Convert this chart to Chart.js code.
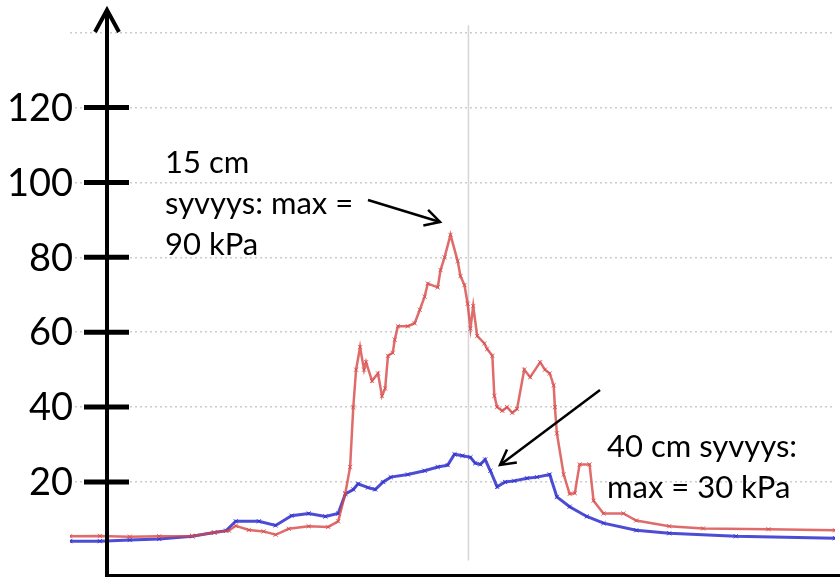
<!DOCTYPE html>
<html>
<head>
<meta charset="utf-8">
<script src="https://cdn.jsdelivr.net/npm/chart.js@4.4.0/dist/chart.umd.min.js"></script>
<style>
  html, body { margin: 0; padding: 0; background: #fff; }
  #wrap { width: 840px; height: 577px; position: relative; }
</style>
</head>
<body>
<div id="wrap"><canvas id="pressureChart"></canvas></div>
<script>
// time axis (arbitrary units, vertical gridline at 100)
const redTime = [0, 7.5, 15, 22.4, 30.7, 36.2, 39.9, 41.6, 44.9, 48.6, 51.6, 54.9, 59.9, 64.8, 67.3,
    69.1, 70.3, 71.1, 71.8, 72.8, 73.8, 74.3, 75.8, 77.3, 78.3, 79.1, 79.8, 81.0, 81.5, 82.3,
    84.8, 86.5, 87.8, 89.0, 89.8, 92.3, 93.0, 94.0, 95.5, 97.3, 98.0, 99.0, 99.8, 100.5, 101.2,
    102.2, 104.0, 104.7, 106.0, 106.5, 107.2, 108.5, 109.7, 111.0, 112.2, 114.0, 115.5, 118.0,
    119.2, 120.4, 121.4, 121.7, 122.2, 123.9, 125.4, 126.7, 127.9, 130.4, 131.4, 133.9, 138.9,
    142.1, 150.4, 158.9, 175.3, 192];
const redValues = [5.5, 5.6, 5.4, 5.5, 5.6, 6.5, 7.0, 8.3, 7.2, 6.8, 5.9, 7.5, 8.2, 8.0, 9.5,
    17, 24, 40, 50, 56, 50, 52, 47, 49, 43, 45, 53.7, 54.5, 58, 61.6,
    61.6, 62.4, 66, 69.5, 73, 72, 76.6, 80, 86, 79, 75, 72.6, 67.6, 61, 67,
    59, 57, 55.5, 53.7, 43, 40, 39, 40, 38.5, 39.5, 50, 48, 52,
    50, 49, 45.8, 40, 33, 22, 16.8, 17, 24.7, 24.7, 15, 11.6, 11.6,
    9.7, 8.2, 7.6, 7.4, 7.1];

const blueTime = [0, 7.5, 15, 22.4, 30.7, 36.2, 39.2, 41.6, 47.4, 51.6, 55.6, 59.9, 64.1, 67.3,
    69.1, 71.1, 72.3, 74.8, 76.6, 78.6, 80.5, 84.8, 89.0, 92.3, 94.8, 96.5, 98.5, 100.5, 101.7,
    103.0, 104.2, 105.5, 107.2, 109.2, 111.5, 114.7, 117.2, 120.4, 122.2, 125.4, 129.7, 133.9,
    142.1, 150.4, 167.1, 192];
const blueValues = [4.2, 4.2, 4.5, 4.8, 5.5, 6.5, 7, 9.5, 9.5, 8.4, 11, 11.6, 10.8, 11.6,
    16.8, 18, 19.5, 18.5, 18, 20, 21.3, 22, 23, 24, 24.5, 27.4, 27, 26.6, 25,
    24.7, 26, 23, 18.7, 20, 20.3, 21, 21.3, 22, 16, 13.4, 10.8, 9,
    7.1, 6.3, 5.5, 5];

const yTickLabels = [20, 40, 60, 80, 100, 120];
const gridLineTime = 100;

const annotations = [
    { lines: ['15 cm', 'syvyys: max =', '90 kPa'], x: 165, y: 163 },
    { lines: ['40 cm syvyys:', 'max = 30 kPa'], x: 607, y: 447 }
];
const arrows = [
    { from: [368, 200], to: [440, 222] },
    { from: [600, 390], to: [500, 465] }
];

function toPoints(xs, ys) {
    return xs.map((x, i) => ({ x: x, y: ys[i] }));
}

function drawArrowHead(ctx, x, y, angle, len, spread) {
    ctx.beginPath();
    ctx.moveTo(x - len * Math.cos(angle - spread), y - len * Math.sin(angle - spread));
    ctx.lineTo(x, y);
    ctx.lineTo(x - len * Math.cos(angle + spread), y - len * Math.sin(angle + spread));
    ctx.stroke();
}

const overlayPlugin = {
    id: 'overlay',
    beforeDatasetsDraw(chart) {
        // the single vertical gridline
        const ctx = chart.ctx;
        const px = chart.scales.x.getPixelForValue(gridLineTime);
        ctx.save();
        ctx.strokeStyle = '#d6d6d6';
        ctx.lineWidth = 1.5;
        ctx.beginPath();
        ctx.moveTo(px, chart.scales.y.getPixelForValue(142));
        ctx.lineTo(px, chart.scales.y.getPixelForValue(-1));
        ctx.stroke();
        ctx.restore();
    },
    afterDraw(chart) {
        const ctx = chart.ctx;
        const yScale = chart.scales.y;
        const axisX = 107;
        const axisBottom = 576;

        ctx.save();
        ctx.strokeStyle = '#000';
        ctx.lineCap = 'butt';

        // vertical axis with arrow
        ctx.lineWidth = 4;
        ctx.beginPath();
        ctx.moveTo(axisX, 12);
        ctx.lineTo(axisX, 577);
        ctx.stroke();
        ctx.lineJoin = 'miter';
        drawArrowHead(ctx, axisX, 10, -Math.PI / 2, 25, 0.5);

        // horizontal axis
        ctx.beginPath();
        ctx.moveTo(axisX - 2, axisBottom);
        ctx.lineTo(840, axisBottom);
        ctx.stroke();

        // tick marks and labels
        ctx.fillStyle = '#000';
        ctx.font = '38px Lato';
        ctx.textAlign = 'right';
        ctx.textBaseline = 'middle';
        yTickLabels.forEach(v => {
            const py = yScale.getPixelForValue(v);
            ctx.lineWidth = 5;
            ctx.beginPath();
            ctx.moveTo(axisX - 23, py);
            ctx.lineTo(axisX + 22, py);
            ctx.stroke();
            ctx.fillText(String(v), 73, py + 1);
        });

        // annotation texts
        ctx.font = '31px Lato';
        ctx.textAlign = 'left';
        annotations.forEach(a => {
            a.lines.forEach((t, i) => ctx.fillText(t, a.x, a.y + i * 41));
        });

        // annotation arrows
        ctx.lineWidth = 2.5;
        arrows.forEach(a => {
            ctx.beginPath();
            ctx.moveTo(a.from[0], a.from[1]);
            ctx.lineTo(a.to[0], a.to[1]);
            ctx.stroke();
            const ang = Math.atan2(a.to[1] - a.from[1], a.to[0] - a.from[0]);
            drawArrowHead(ctx, a.to[0], a.to[1], ang, 17, 0.5);
        });
        ctx.restore();
    }
};

const ctx = document.getElementById('pressureChart').getContext('2d');
const pressureChart = new Chart(ctx, {
    type: 'line',
    data: {
        datasets: [{
            label: '15 cm',
            data: toPoints(redTime, redValues),
            borderColor: 'rgba(215, 70, 70, 0.8)',
            backgroundColor: 'rgba(215, 70, 70, 0.8)',
            borderWidth: 2.5,
            pointStyle: 'crossRot',
            pointRadius: 3,
            pointBorderWidth: 1,
            tension: 0
        }, {
            label: '40 cm',
            data: toPoints(blueTime, blueValues),
            borderColor: 'rgba(45, 45, 205, 0.85)',
            backgroundColor: 'rgba(45, 45, 205, 0.85)',
            borderWidth: 3,
            pointStyle: 'crossRot',
            pointRadius: 3,
            pointBorderWidth: 1,
            tension: 0
        }]
    },
    options: {
        responsive: true,
        maintainAspectRatio: false,
        animation: false,
        layout: { padding: { left: 70, right: 0, top: 0, bottom: 0 } },
        plugins: {
            legend: { display: false },
            tooltip: { enabled: false }
        },
        scales: {
            x: {
                type: 'linear',
                min: 0,
                max: 192,
                ticks: { display: false },
                border: { display: false },
                grid: { display: false }
            },
            y: {
                min: -3.24,
                max: 147.4,
                ticks: { display: false, stepSize: 20 },
                border: { display: false, dash: [2, 3] },
                grid: {
                    drawTicks: false,
                    color: c => (c.tick && c.tick.value % 20 === 0 && c.tick.value >= 0) ? '#cccccc' : 'rgba(0,0,0,0)',
                    lineWidth: 1.5
                }
            }
        }
    },
    plugins: [overlayPlugin]
});
</script>
</body>
</html>
